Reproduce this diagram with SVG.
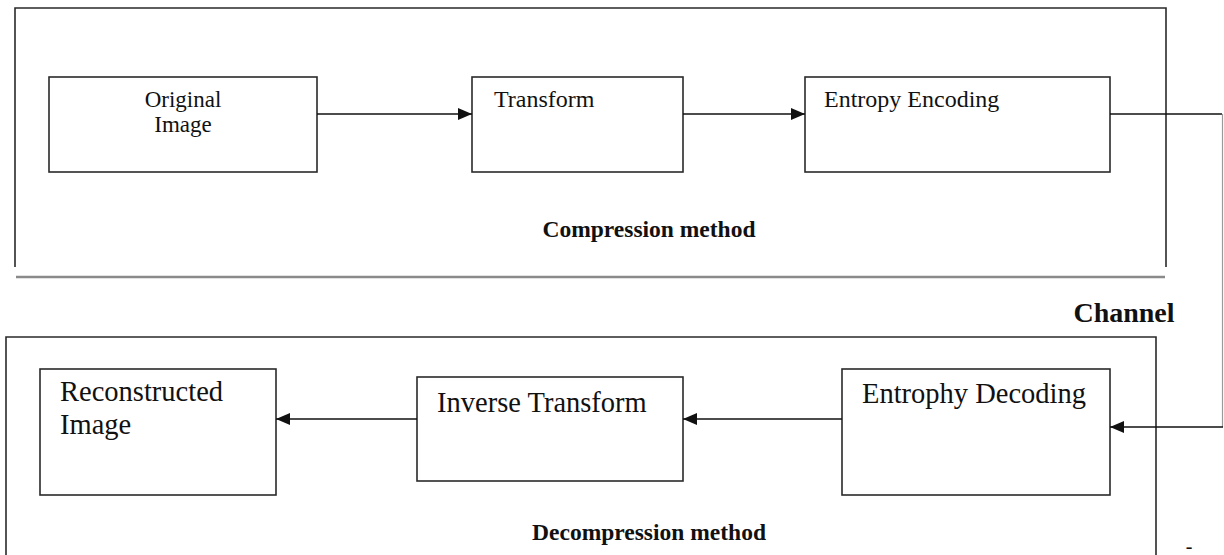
<svg xmlns="http://www.w3.org/2000/svg" width="1224" height="555" viewBox="0 0 1224 555">
  <style>
    .box { fill: #ffffff; stroke: #2a2a2a; stroke-width: 1.6; }
    .frame { fill: none; stroke: #2a2a2a; stroke-width: 1.6; }
    .frameGrey { fill: none; stroke: #8a8a8a; stroke-width: 2.4; }
    .conn { fill: none; stroke: #111111; stroke-width: 1.5; }
    .connGrey { fill: none; stroke: #9a9a9a; stroke-width: 1.2; }
    .lbl { font-family: "Liberation Serif", "Times New Roman", serif; fill: #111111; }
    .top { font-size: 24px; }
    .bot { font-size: 28.5px; }
    .bold { font-weight: bold; }
  </style>
  <defs>
    <marker id="arrow" markerWidth="14" markerHeight="12" refX="14" refY="6" orient="auto" markerUnits="userSpaceOnUse">
      <path d="M0,0 L14,6 L0,12 Z" fill="#111111"/>
    </marker>
  </defs>

  <rect width="1224" height="555" fill="#ffffff"/>

  <g id="compression-frame">
    <path class="frame" d="M15,267 L15,8 L1166,8 L1166,267"/>
    <line class="frameGrey" x1="16" y1="277" x2="1165" y2="277"/>
    <text class="lbl bold" x="649" y="237" font-size="23.5" text-anchor="middle">Compression method</text>
  </g>

  <g id="decompression-frame">
    <path class="frame" d="M6,555 L6,337 L1156,337 L1156,555"/>
    <text class="lbl bold" x="649" y="540" font-size="23.5" text-anchor="middle">Decompression method</text>
  </g>

  <g id="original-image">
    <rect class="box" x="49" y="77" width="268" height="95"/>
    <text class="lbl" x="183" y="107" font-size="23" text-anchor="middle">Original</text>
    <text class="lbl" x="183" y="132" font-size="23" text-anchor="middle">Image</text>
  </g>

  <g id="transform">
    <rect class="box" x="472" y="77" width="211" height="95"/>
    <text class="lbl top" x="494" y="107">Transform</text>
  </g>

  <g id="entropy-encoding">
    <rect class="box" x="805" y="77" width="305" height="95"/>
    <text class="lbl top" x="824" y="107">Entropy Encoding</text>
  </g>

  <g id="reconstructed-image">
    <rect class="box" x="40" y="369" width="236" height="126"/>
    <text class="lbl bot" x="60" y="401">Reconstructed</text>
    <text class="lbl bot" x="60" y="434">Image</text>
  </g>

  <g id="inverse-transform">
    <rect class="box" x="417" y="377" width="266" height="104"/>
    <text class="lbl bot" x="437" y="412">Inverse Transform</text>
  </g>

  <g id="entrophy-decoding">
    <rect class="box" x="842" y="369" width="268" height="126"/>
    <text class="lbl bot" x="862" y="403">Entrophy Decoding</text>
  </g>

  <g id="channel-label">
    <text class="lbl bold" x="1124" y="322" font-size="28" text-anchor="middle">Channel</text>
  </g>

  <g id="connectors">
    <line class="conn" x1="317" y1="114" x2="472" y2="114" marker-end="url(#arrow)"/>
    <line class="conn" x1="683" y1="114" x2="805" y2="114" marker-end="url(#arrow)"/>
    <line class="conn" x1="1110" y1="114" x2="1222" y2="114"/>
    <line class="connGrey" x1="1222.5" y1="114" x2="1222.5" y2="427"/>
    <line class="conn" x1="1223" y1="427" x2="1110" y2="427" marker-end="url(#arrow)"/>
    <line class="conn" x1="842" y1="419" x2="683" y2="419" marker-end="url(#arrow)"/>
    <line class="conn" x1="417" y1="419" x2="276" y2="419" marker-end="url(#arrow)"/>
  </g>

  <g id="stray-mark">
    <text class="lbl" x="1189" y="553" font-size="20" text-anchor="middle">-</text>
  </g>
</svg>
